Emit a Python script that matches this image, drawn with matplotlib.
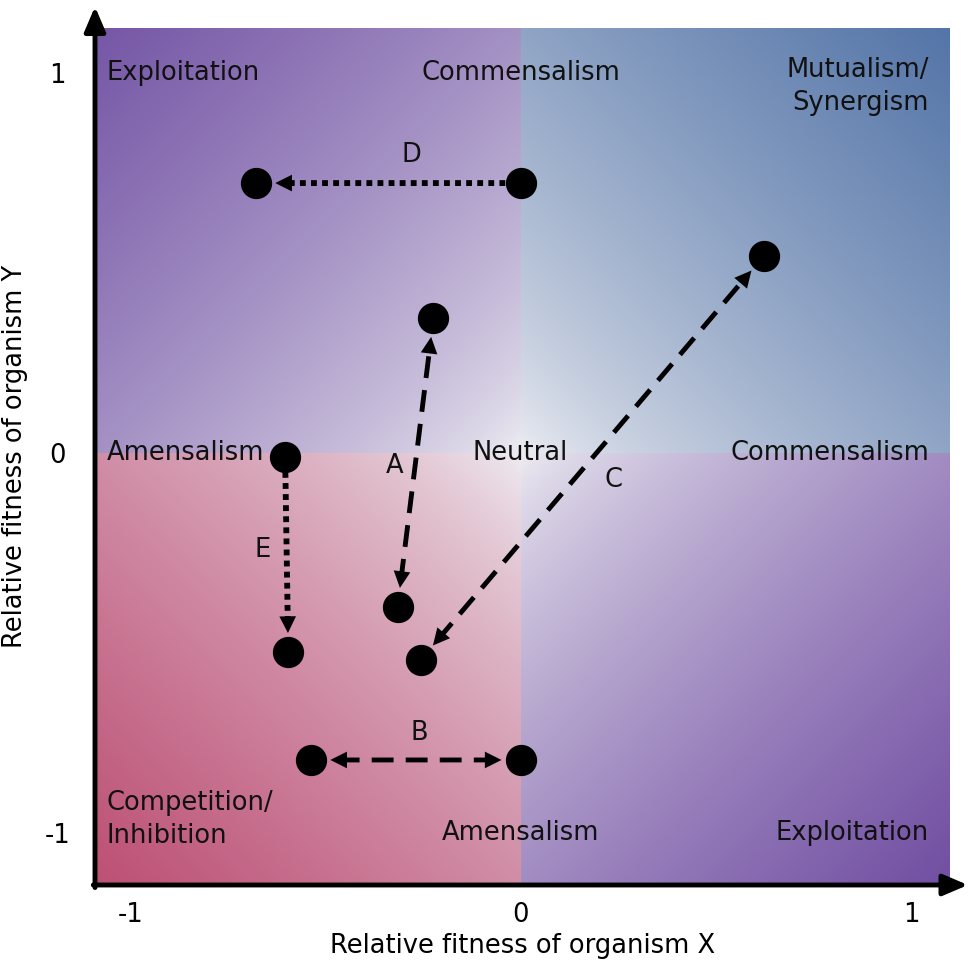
import numpy as np
import matplotlib.pyplot as plt
from matplotlib.colors import to_rgb

# ----------------------------
# Datos: transiciones entre interacciones
# ----------------------------
arrow_labels = ['A', 'B', 'C', 'D', 'E']
start_x = [-0.315, -0.536, -0.256, 0.0, -0.603]
start_y = [-0.405, -0.808, -0.545, 0.71, -0.01]
end_x = [-0.223, 0.0, 0.623, -0.677, -0.595]
end_y = [0.355, -0.808, 0.518, 0.71, -0.524]
both_heads = [True, True, True, False, False]
dotted = [False, False, False, True, True]
label_x = [-0.323, -0.26, 0.238, -0.28, -0.66]
label_y = [-0.034, -0.737, -0.071, 0.784, -0.255]

# Regiones del plano (columna / fila en el cuadrante)
region_names = ['Exploitation', 'Commensalism', 'Mutualism/\nSynergism',
                'Amensalism', 'Neutral', 'Commensalism',
                'Competition/\nInhibition', 'Amensalism', 'Exploitation']
region_col = [-1, 0, 1, -1, 0, 1, -1, 0, 1]
region_row = [1, 1, 1, 0, 0, 0, -1, -1, -1]

tick_values = [-1, 0, 1]
tick_labels = ['-1', '0', '1']

# ----------------------------
# Estilo
# ----------------------------
xlim = (-1.09, 1.10)
ylim = (-1.137, 1.118)
c_center = np.array(to_rgb('#f0f0f4'))
c_tl = np.array(to_rgb('#7556a6'))
c_tr = np.array(to_rgb('#5475a8'))
c_bl = np.array(to_rgb('#bd5075'))
c_br = np.array(to_rgb('#714ea2'))
fs = 18.5

fig = plt.figure(figsize=(9.75, 9.6), dpi=100)
ax = fig.add_axes([95 / 975, 75 / 960, 855 / 975, 857 / 960])

# ----------------------------
# Fondo con degradado por cuadrante
# ----------------------------
gx = np.linspace(xlim[0], xlim[1], 900)
gy = np.linspace(ylim[0], ylim[1], 900)
X, Y = np.meshgrid(gx, gy)
tx = np.where(X < 0, X / xlim[0], X / xlim[1])
ty = np.where(Y < 0, Y / ylim[0], Y / ylim[1])
t = (((tx + ty) / 2) ** 0.7)[..., None]
corner = np.where((X < 0)[..., None],
                  np.where((Y >= 0)[..., None], c_tl, c_bl),
                  np.where((Y >= 0)[..., None], c_tr, c_br))
img = c_center * (1 - t) + corner * t
ax.imshow(img, origin='lower', extent=(*xlim, *ylim), aspect='auto',
          interpolation='nearest', zorder=0)

# ----------------------------
# Flechas y puntos
# ----------------------------
for i in range(len(arrow_labels)):
    p0 = (start_x[i], start_y[i])
    p1 = (end_x[i], end_y[i])
    if dotted[i]:
        ls = (0, (1.0, 0.9))
        lw = 4.2
    else:
        ls = (0, (4.5, 2.5))
        lw = 3.5
    shrink_start = 19 if both_heads[i] else 11
    # cuerpo de la flecha
    ax.annotate('', xy=p1, xytext=p0,
                arrowprops=dict(arrowstyle='-', color='black', lw=lw,
                                linestyle=ls, capstyle='butt',
                                shrinkA=shrink_start, shrinkB=19),
                zorder=3)
    # puntas
    style = '<|-|>' if both_heads[i] else '-|>'
    ax.annotate('', xy=p1, xytext=p0,
                arrowprops=dict(arrowstyle=f'{style},head_length=0.4,head_width=0.2',
                                color='black', lw=0, mutation_scale=30,
                                shrinkA=13.7, shrinkB=13.7),
                zorder=4)
    ax.plot([p0[0], p1[0]], [p0[1], p1[1]], 'o', color='black',
            markersize=21.5, zorder=5)
    ax.text(label_x[i], label_y[i], arrow_labels[i], ha='center', va='center',
            fontsize=fs, color='#111111', zorder=6)

# ----------------------------
# Etiquetas de regiones
# ----------------------------
for name, col, row in zip(region_names, region_col, region_row):
    ha = {-1: 'left', 0: 'center', 1: 'right'}[col]
    x = col * 1.06 if col < 0 else col * 1.046
    y = row
    if '\n' in name:
        y = row - 0.035 * row
    ax.text(x, y, name, ha=ha, va='center', fontsize=fs, color='#111111',
            linespacing=1.35, zorder=6)

# ----------------------------
# Ejes
# ----------------------------
ax.set_xlim(*xlim)
ax.set_ylim(*ylim)
for s in ax.spines.values():
    s.set_visible(False)
ax.set_xticks(tick_values)
ax.set_xticklabels(tick_labels)
ax.set_yticks(tick_values)
ax.set_yticklabels(tick_labels)
ax.tick_params(axis='both', length=0, labelsize=fs)
ax.tick_params(axis='x', pad=12)
ax.tick_params(axis='y', pad=27)
for lab in ax.get_yticklabels():
    lab.set_horizontalalignment('center')

ax.set_xlabel('Relative fitness of organism X', fontsize=fs, labelpad=4)
ax.set_ylabel('Relative fitness of organism Y', fontsize=fs, labelpad=12)

axis_arrow = dict(arrowstyle='-|>,head_length=0.75,head_width=0.32',
                  color='black', lw=3.5, mutation_scale=20,
                  shrinkA=0, shrinkB=0)
ax.annotate('', xy=(0, 1.025), xytext=(0, -0.003), xycoords='axes fraction',
            arrowprops=axis_arrow, annotation_clip=False, zorder=7)
ax.annotate('', xy=(1.021, 0), xytext=(-0.002, 0), xycoords='axes fraction',
            arrowprops=axis_arrow, annotation_clip=False, zorder=7)

plt.savefig('out.png', dpi=100)
plt.close()
